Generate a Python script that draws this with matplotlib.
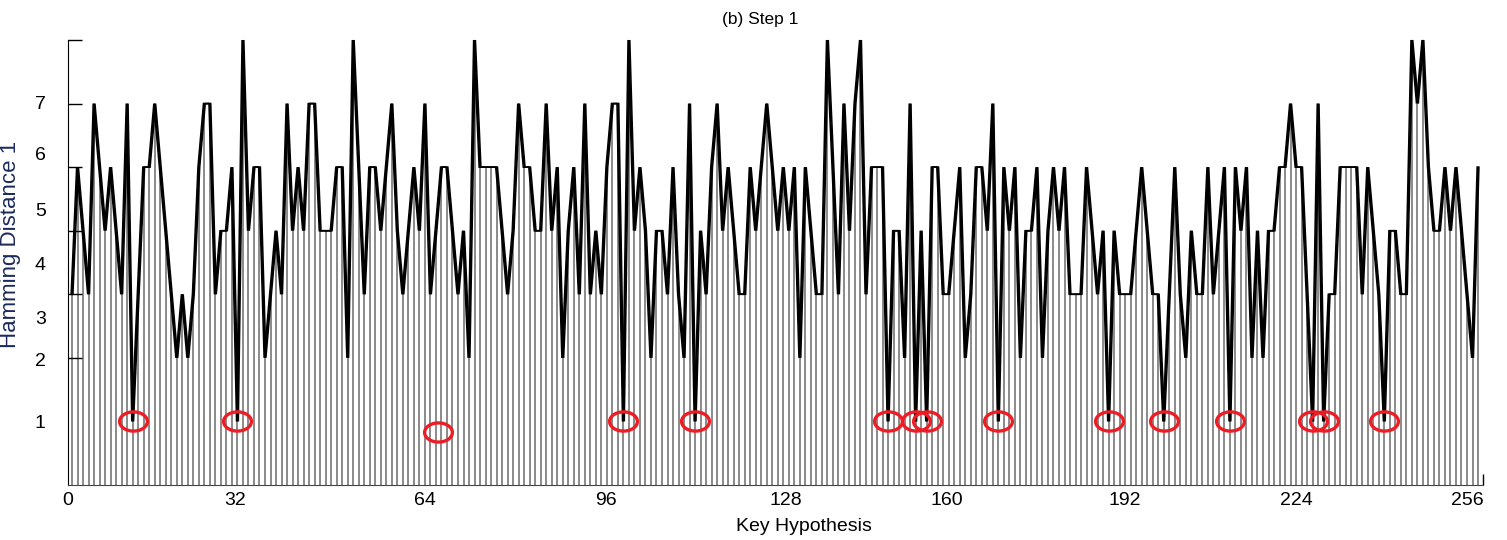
import numpy as np
import matplotlib
matplotlib.use("Agg")
import matplotlib.pyplot as plt
from matplotlib.path import Path
import matplotlib.transforms as mtransforms

plt.rcParams['font.family'] = ['Liberation Sans', 'DejaVu Sans']

# ------------------------------------------------------------
# data: hamming distance per key hypothesis
# ------------------------------------------------------------
hd = [3, 5, 4, 3, 6, 5, 4, 5, 4, 3, 6, 1, 3, 5, 5, 6,
      5, 4, 3, 2, 3, 2, 3, 5, 6, 6, 3, 4, 4, 5, 1, 7,
      4, 5, 5, 2, 3, 4, 3, 6, 4, 5, 4, 6, 6, 4, 4, 4,
      5, 5, 2, 7, 5, 3, 5, 5, 4, 5, 6, 4, 3, 4, 5, 4,
      6, 3, 4, 5, 5, 4, 3, 4, 2, 7, 5, 5, 5, 5, 4, 3,
      4, 6, 5, 5, 4, 4, 6, 4, 5, 2, 4, 5, 3, 6, 3, 4,
      3, 5, 6, 6, 1, 7, 4, 5, 4, 2, 4, 4, 3, 5, 3, 2,
      6, 1, 4, 3, 5, 6, 4, 5, 4, 3, 3, 5, 4, 5, 6, 5,
      4, 5, 4, 5, 2, 5, 4, 3, 3, 7, 5, 3, 6, 4, 6, 7,
      3, 5, 5, 5, 1, 4, 4, 2, 6, 1, 4, 1, 5, 5, 3, 3,
      4, 5, 2, 3, 5, 5, 4, 6, 1, 5, 4, 5, 2, 4, 4, 5,
      2, 4, 5, 4, 5, 3, 3, 3, 5, 4, 3, 4, 1, 4, 3, 3,
      3, 4, 5, 4, 3, 3, 1, 3, 5, 3, 2, 4, 3, 3, 5, 3,
      4, 5, 1, 5, 4, 5, 2, 4, 2, 4, 4, 5, 5, 6, 5, 5,
      3, 1, 6, 1, 3, 3, 5, 5, 5, 5, 3, 5, 4, 3, 1, 4,
      4, 3, 3, 7, 6, 7, 5, 4, 4, 5, 4, 5, 4, 3, 2, 5]
keys = np.arange(len(hd))
hd = np.array(hd)

# the one circle that is not sitting on a minimum
stray_circle_x = [66.3]
stray_circle_y = [0.83]

xtick_vals = [0, 32, 64, 96, 128, 160, 192, 224, 256]
xtick_pos = [-0.7, 29.6, 64.0, 96.8, 129.5, 158.7, 191.0, 222.0, 253.0]
ytick_labels = ['1', '2', '3', '4', '5', '6', '7']
ytick_pos = [1.0, 1.98, 2.64, 3.49, 4.33, 5.22, 6.01]

# ------------------------------------------------------------
fig = plt.figure(figsize=(15.07, 5.40), dpi=100)
ax = fig.add_axes([68 / 1507, 1 - 485 / 540, 1415 / 1507, 445 / 540])

ax.vlines(keys, 0, hd, colors='#8a8a8a', linewidth=1.4, zorder=1)

# line looks horizontally smeared in the original -> a few shifted copies
for dx in (-0.9, 0.0, 0.9):
    tr = mtransforms.offset_copy(ax.transData, fig=fig, x=dx, y=0, units='dots')
    ax.plot(keys, hd, color='black', linewidth=1.1, transform=tr,
            zorder=3, clip_on=False, solid_joinstyle='miter')

# ellipse marker for the red circles
t = np.linspace(0, 2 * np.pi, 60)
ell = Path(np.column_stack([1.45 * np.cos(t), np.sin(t)]), closed=True)
hits = hd == 1
ax.plot(keys[hits], hd[hits], linestyle='none', marker=ell, markersize=20,
        markerfacecolor='none', markeredgecolor='#ee1c25', markeredgewidth=2.4,
        zorder=4)
ax.plot(stray_circle_x, stray_circle_y, linestyle='none', marker=ell,
        markersize=20, markerfacecolor='none', markeredgecolor='#ee1c25',
        markeredgewidth=2.4, zorder=4)

ax.set_xlim(-0.73, 255.9)
ax.set_ylim(0, 7)

ax.spines['top'].set_visible(False)
ax.spines['right'].set_visible(False)
ax.spines['left'].set_color('black')
ax.spines['bottom'].set_color('#444444')

ax.set_xticks(xtick_pos, [str(v) for v in xtick_vals])
ax.tick_params(axis='x', length=0, pad=5, labelsize=14)
ax.set_xticks([255.9], minor=True)
ax.tick_params(axis='x', which='minor', direction='in', length=8, width=1,
               color='black')

ax.set_yticks(ytick_pos, ytick_labels)
ax.tick_params(axis='y', length=0, pad=16, labelsize=14)
ax.set_yticks(np.arange(1, 8), minor=True)
ax.tick_params(axis='y', which='minor', direction='in', length=10, width=1,
               color='black')

ax.set_xlabel('Key Hypothesis', fontsize=14)
ax.xaxis.set_label_coords(0.52, -0.075)
ax.set_ylabel('Hamming Distance 1', fontsize=16, color='#1b2a5c')
ax.yaxis.set_label_coords(-0.033, 0.54)
ax.set_title('(b) Step 1', fontsize=12.5, x=0.489, y=1.037, pad=0)

fig.savefig('out.png', dpi=100)
